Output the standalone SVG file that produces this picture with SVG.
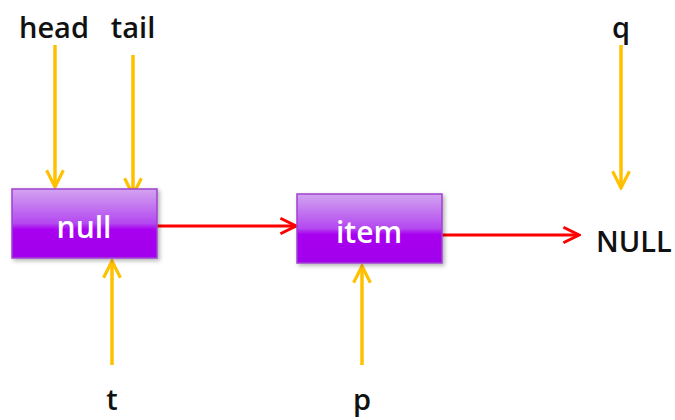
<svg xmlns="http://www.w3.org/2000/svg" width="675" height="420" viewBox="0 0 675 420">
<style>
.lbl{font-family:"Open Sans","Liberation Sans",sans-serif;font-size:29px;font-weight:600;fill:#111;text-anchor:middle}
.box{fill:url(#g);stroke:#a040d0;stroke-width:1.5}
.bt{font-family:"Open Sans","Liberation Sans",sans-serif;font-size:30px;font-weight:600;fill:#fff;text-anchor:middle}
.y{stroke:#FFC000;stroke-width:3.5;fill:none;marker-end:url(#ay)}
.r{stroke:#FF0000;stroke-width:3;fill:none;marker-end:url(#ar)}
</style>
<defs>
<linearGradient id="g" x1="0" y1="0" x2="0" y2="1">
<stop offset="0" stop-color="#d2a4f0"/>
<stop offset="0.5" stop-color="#b448f0"/>
<stop offset="0.58" stop-color="#a800f0"/>
<stop offset="1" stop-color="#a200ec"/>
</linearGradient>
<marker id="ay" viewBox="0 0 10 10" refX="9" refY="5" markerWidth="6" markerHeight="6" orient="auto" markerUnits="strokeWidth">
<path d="M1,1 L9,5 L1,9" fill="none" stroke="#FFC000" stroke-width="1.5"/>
</marker>
<marker id="ar" viewBox="0 0 10 10" refX="9" refY="5" markerWidth="6.5" markerHeight="6.5" orient="auto" markerUnits="strokeWidth">
<path d="M1,1 L9,5 L1,9" fill="none" stroke="#FF0000" stroke-width="1.5"/>
</marker>
<filter id="sh" x="-10%" y="-10%" width="125%" height="130%">
<feDropShadow dx="2" dy="2" stdDeviation="2" flood-color="#000" flood-opacity="0.3"/>
</filter>
</defs>
<g id="connectors">
<line class="y" x1="55" y1="45" x2="55" y2="187"/>
<line class="y" x1="133" y1="55" x2="133" y2="195"/>
<line class="y" x1="112" y1="365" x2="112" y2="261"/>
<line class="y" x1="362" y1="365" x2="362" y2="266"/>
<line class="y" x1="621" y1="45" x2="621" y2="188"/>
<line class="r" x1="157" y1="226" x2="296" y2="226"/>
<line class="r" x1="442" y1="235" x2="579" y2="235"/>
</g>
<g id="null-node">
<rect class="box" x="12" y="189" width="145" height="69" filter="url(#sh)"/>
<text class="bt" x="84" y="238">null</text>
</g>
<g id="item-node">
<rect class="box" x="297" y="194" width="145" height="69" filter="url(#sh)"/>
<text class="bt" x="369" y="243">item</text>
</g>
<g id="head"><text class="lbl" x="54" y="38">head</text></g>
<g id="tail"><text class="lbl" x="133" y="38">tail</text></g>
<g id="q"><text class="lbl" x="621" y="38">q</text></g>
<g id="NULL"><text class="lbl" x="634" y="252">NULL</text></g>
<g id="t"><text class="lbl" x="112" y="410">t</text></g>
<g id="p"><text class="lbl" x="362" y="410">p</text></g>
</svg>
